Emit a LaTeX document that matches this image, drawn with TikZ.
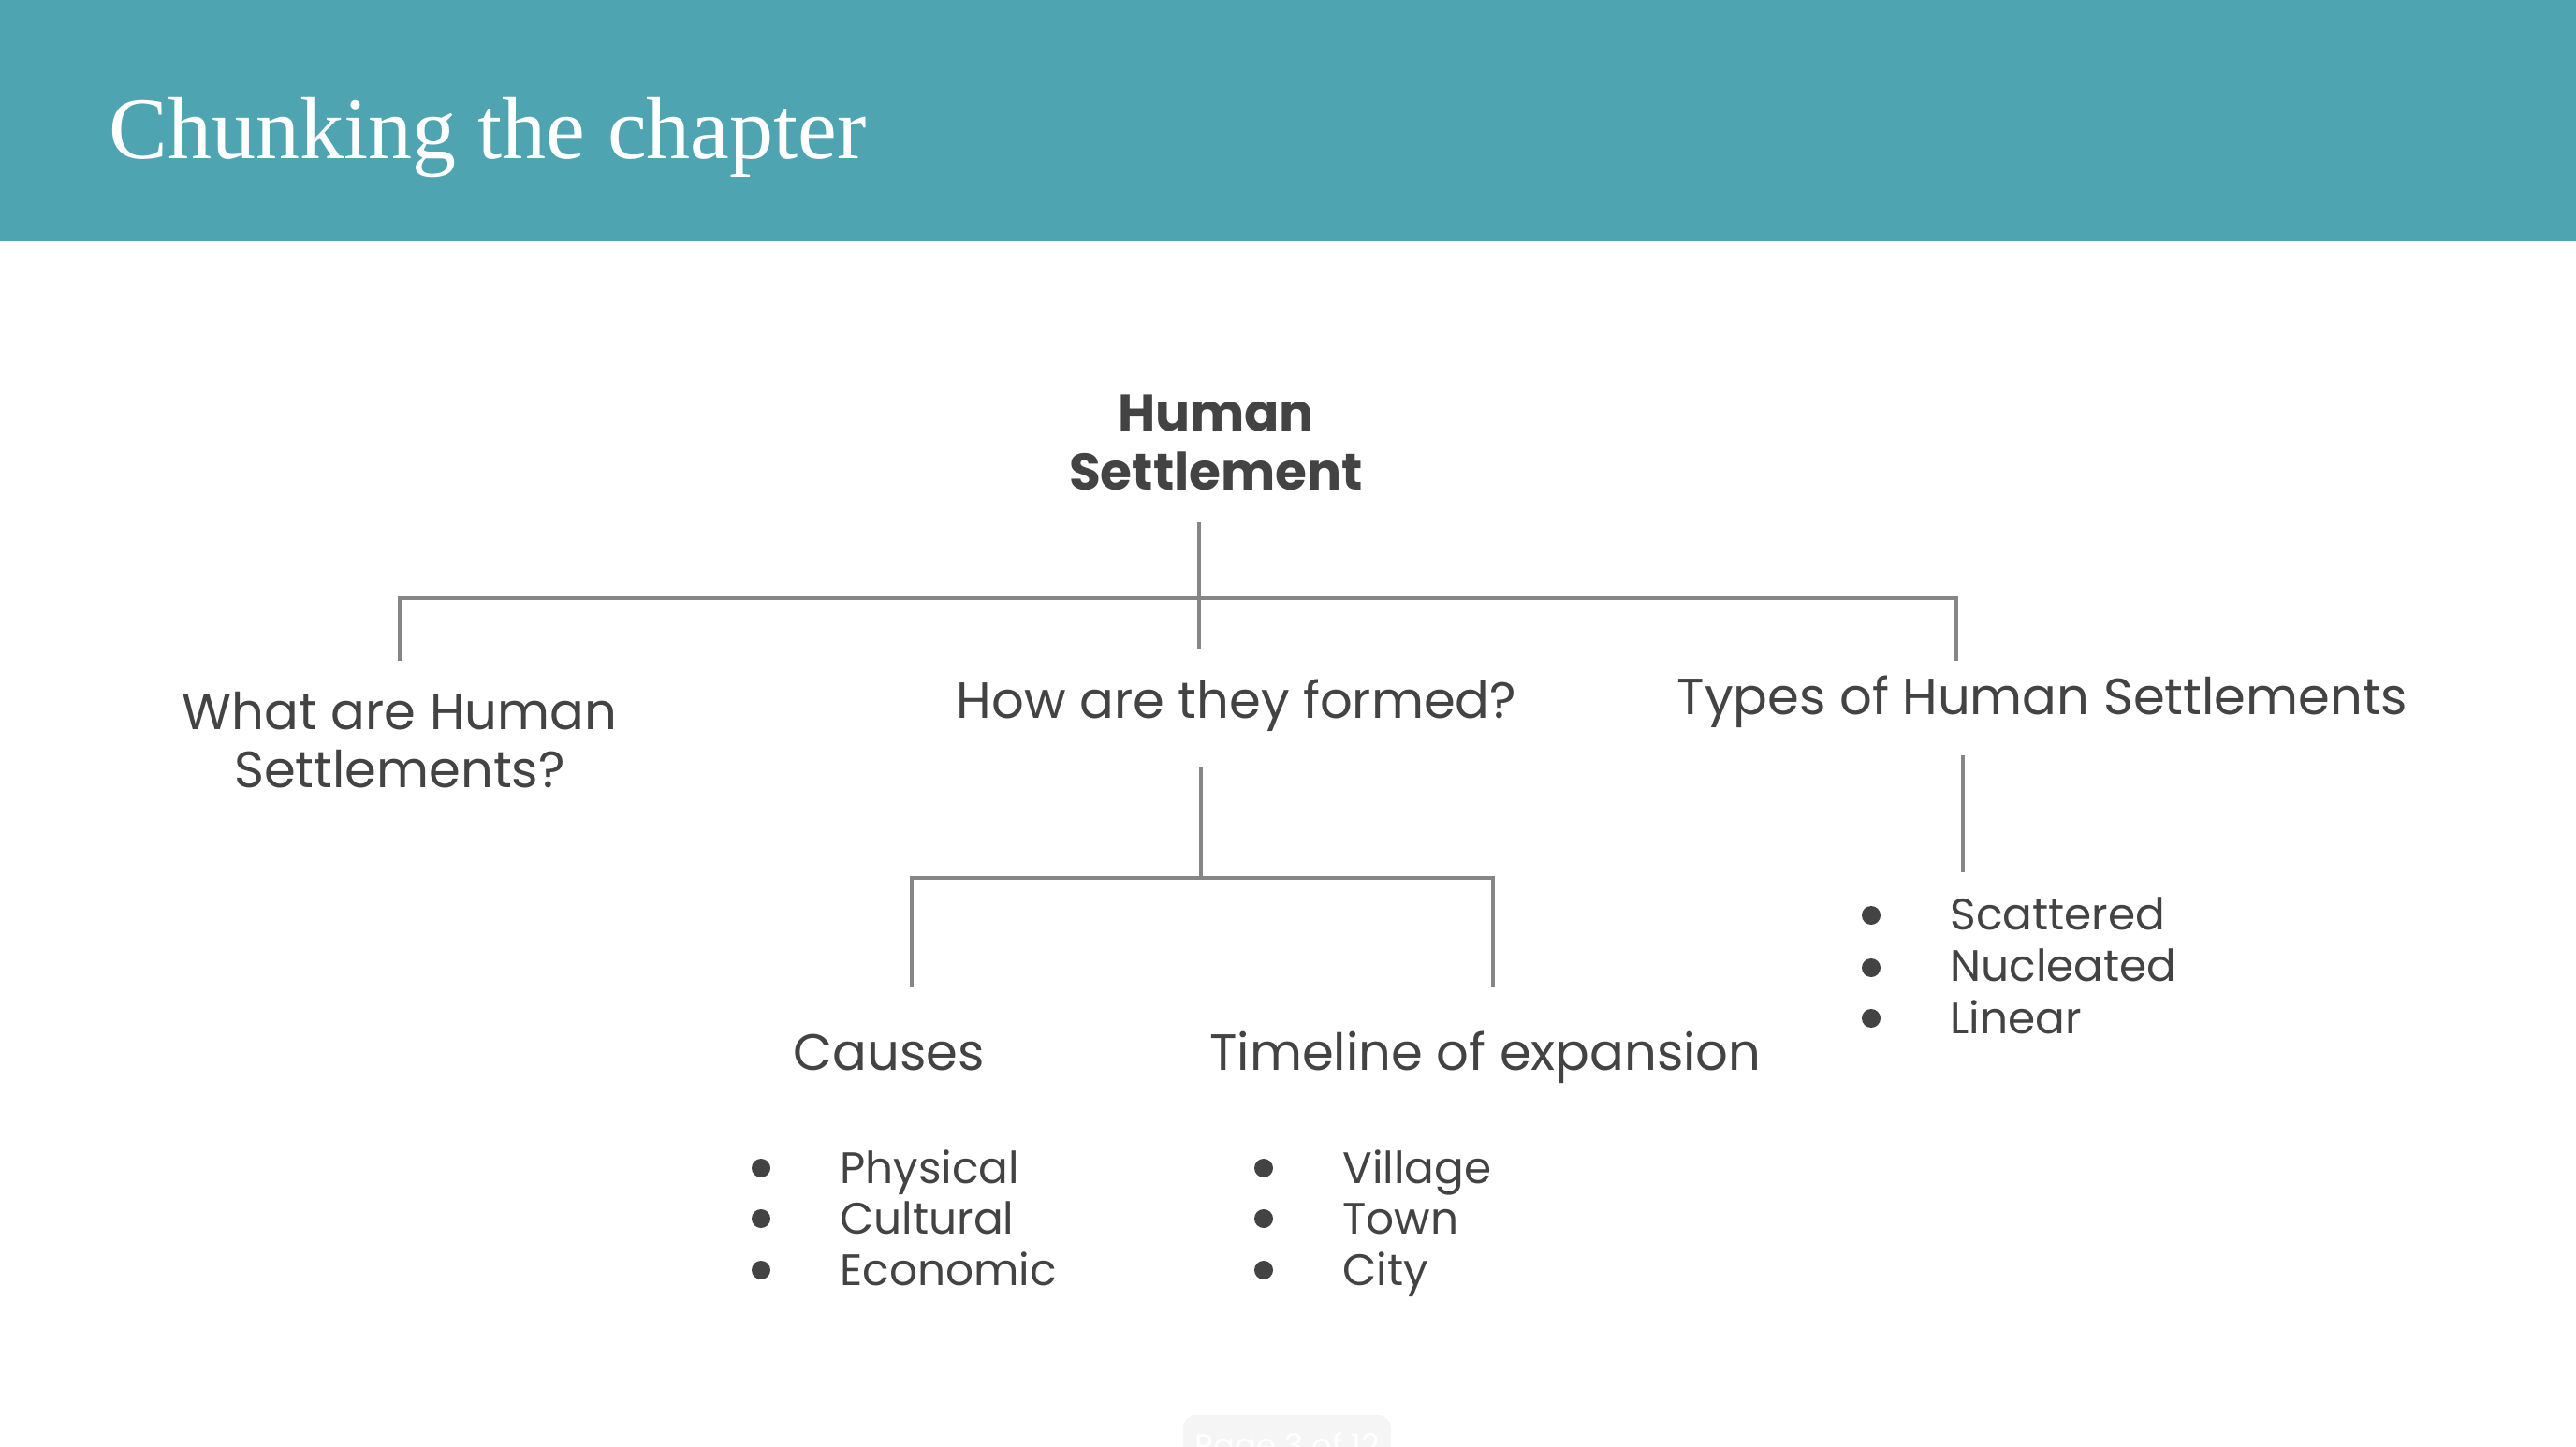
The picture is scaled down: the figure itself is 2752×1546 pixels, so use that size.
\documentclass[tikz,border=0pt]{standalone}
\usepackage{fontspec}
\setmainfont{Poppins}
\newfontfamily\titlefont{Liberation Serif}
\definecolor{banner}{HTML}{4FA4B2}
\definecolor{ink}{HTML}{434343}
\definecolor{rule}{HTML}{868686}
\definecolor{footgray}{HTML}{F5F5F5}
\begin{document}
\begin{tikzpicture}[x=0.5pt,y=-0.5pt,
  head/.style={font=\bfseries\fontsize{27.5}{31.5}\selectfont, text=ink, align=center, inner sep=0},
  branch/.style={font=\fontsize{27.2}{31}\selectfont, text=ink, align=center, inner sep=0},
  listitem/.style={font=\fontsize{23.5}{27.5}\selectfont, text=ink, anchor=base west, inner sep=0},
  dot/.style={circle, fill=ink, inner sep=0, minimum size=10pt},
  link/.style={draw=rule, line width=1.6pt}]
\useasboundingbox (0,0) rectangle (2752,1546);
\fill[white] (0,0) rectangle (2752,1546);
% header band
\fill[banner] (0,0) rectangle (2752,258);
\node[anchor=base west, inner sep=0, text=white, font=\titlefont\fontsize{47}{56}\selectfont] (title) at (116,170) {Chunking the chapter};

% tree labels (base anchor sits on the last line)
\node[head, anchor=base] (root) at (1299,523) {Human\\Settlement};
\node[branch, anchor=base] (what) at (427,841) {What are Human\\Settlements?};
\node[branch, anchor=base] (how) at (1321,767) {How are they formed?};
\node[branch, anchor=base] (types) at (2182,763) {Types of Human Settlements};
\node[branch, anchor=base] (causes) at (950,1143) {Causes};
\node[branch, anchor=base] (timeline) at (1587,1143) {Timeline of expansion};

% connector end points
\coordinate (rootdown) at (1281,558);
\coordinate (rootjoin) at (1281,639);
\coordinate (rootend) at (1281,693);
\coordinate (whattop) at (427,706);
\coordinate (typestop) at (2090,706);
\coordinate (howdown) at (1283,820);
\coordinate (howjoin) at (1283,938);
\coordinate (causestop) at (974,1055);
\coordinate (timelinetop) at (1595,1055);
\coordinate (typesdown) at (2097,807);
\coordinate (typesend) at (2097,932);

\draw[link] (rootdown) -- (rootend);
\draw[link] (whattop) |- (rootjoin) -| (typestop);
\draw[link] (howdown) -- (howjoin);
\draw[link] (causestop) |- (howjoin) -| (timelinetop);
\draw[link] (typesdown) -- (typesend);

% bullet lists
\node[dot] (d1) at (1999,978) {};
\node[dot] (d2) at (1999,1034) {};
\node[dot] (d3) at (1999,1088) {};
\node[listitem] (scattered) at (2083,993) {Scattered};
\node[listitem] (nucleated) at (2083,1048) {Nucleated};
\node[listitem] (linear) at (2083,1104) {Linear};

\node[dot] (c1) at (813,1248) {};
\node[dot] (c2) at (813,1302) {};
\node[dot] (c3) at (813,1357) {};
\node[listitem] (physical) at (897,1264) {Physical};
\node[listitem] (cultural) at (897,1318) {Cultural};
\node[listitem] (economic) at (897,1373) {Economic};

\node[dot] (t1) at (1350,1248) {};
\node[dot] (t2) at (1350,1302) {};
\node[dot] (t3) at (1350,1357) {};
\node[listitem] (village) at (1434,1264) {Village};
\node[listitem] (town) at (1434,1318) {Town};
\node[listitem] (city) at (1434,1373) {City};

% page indicator at the bottom edge
\fill[footgray, rounded corners=7pt] (1264,1512) rectangle (1486,1590);
\node[anchor=base west, inner sep=0, text=white, font=\fontsize{17}{20}\selectfont] (pageno) at (1276,1556) {Page 3 of 12};
\end{tikzpicture}
\end{document}
